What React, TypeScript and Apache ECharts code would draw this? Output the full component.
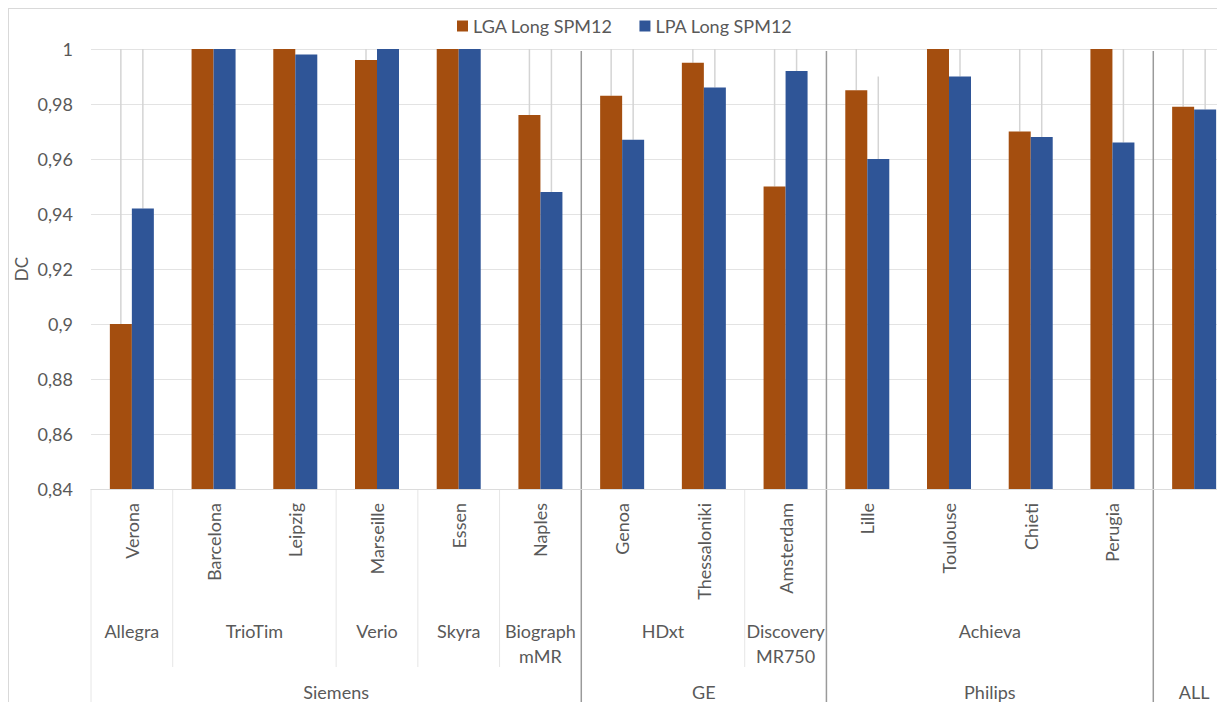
import React, { useEffect, useRef } from "react";
import * as echarts from "echarts";

const sites = ["Verona", "Barcelona", "Leipzig", "Marseille", "Essen", "Naples", "Genoa", "Thessaloniki", "Amsterdam", "Lille", "Toulouse", "Chieti", "Perugia", ""];
const scanners = ["Allegra", "TrioTim", "Verio", "Skyra", "Biograph\nmMR", "HDxt", "Discovery\nMR750", "Achieva", ""];
const scannerSpans = [1, 2, 1, 1, 1, 2, 1, 4, 1];
const vendors = ["Siemens", "GE", "Philips", "ALL"];
const vendorSpans = [6, 3, 4, 1];

const lgaName = "LGA Long SPM12";
const lpaName = "LPA Long SPM12";
const lga = [0.9, 1, 1, 0.996, 1, 0.976, 0.983, 0.995, 0.95, 0.985, 1, 0.97, 1, 0.979];
const lpa = [0.942, 1, 0.998, 1, 1, 0.948, 0.967, 0.986, 0.992, 0.96, 0.99, 0.968, 0.966, 0.978];
const lgaErr = [0.12, 0, 0, 0.02, 0, 0.04, 0.03, 0.02, 0.06, 0.03, 0, 0.04, 0, 0.03];
const lpaErr = [0.07, 0, 0, 0, 0, 0.06, 0.04, 0.03, 0.02, 0.03, 0.02, 0.04, 0.04, 0.03];

const yMin = 0.84;
const yMax = 1;
const yStep = 0.02;

const ORANGE = "#A44E0F";
const BLUE = "#2F5597";
const TEXT = "#595959";
const FONT = "Lato";
const BAR_W = 22;

function errSeries(values: number[], errs: number[], offset: number) {
  return {
    type: "custom",
    z: 1,
    silent: true,
    clip: true,
    data: values.map((v, i) => [i, v, errs[i]]),
    encode: { x: 0, y: 1 },
    renderItem: (params: any, api: any) => {
      const i = api.value(0);
      const v = api.value(1);
      const e = api.value(2);
      if (!e) return null;
      const p1 = api.coord([i, v]);
      const p2 = api.coord([i, Math.min(v + e, yMax)]);
      const x = p1[0] + offset;
      return {
        type: "line",
        shape: { x1: x, y1: p1[1], x2: x, y2: p2[1] },
        style: { stroke: "#d4d4d4", lineWidth: 1.5 },
      };
    },
  };
}

export default function App() {
  const ref = useRef<HTMLDivElement>(null);
  useEffect(() => {
    const chart = echarts.init(ref.current!, null, { renderer: "svg" });
    chart.setOption({
      animation: false,
      textStyle: { fontFamily: FONT },
      legend: {
        data: [lgaName, lpaName],
        top: 3,
        left: 443,
        itemWidth: 11,
        itemHeight: 11,
        itemGap: 27,
        icon: "rect",
        textStyle: { color: TEXT, fontSize: 18, fontFamily: FONT },
      },
      grid: {
        left: 82,
        top: 40,
        right: -10,
        bottom: 213,
        containLabel: false,
        outerBoundsMode: "none",
      },
      xAxis: {
        type: "category",
        data: sites,
        axisLine: { show: true, lineStyle: { color: "#dcdcdc", width: 1 } },
        axisTick: { show: false },
        axisLabel: {
          interval: 0,
          rotate: 90,
          margin: 14,
          color: TEXT,
          fontSize: 18,
          fontFamily: FONT,
        },
        splitLine: { show: false },
      },
      yAxis: {
        type: "value",
        min: yMin,
        max: yMax,
        interval: yStep,
        name: "DC",
        nameLocation: "middle",
        nameGap: 61,
        nameMoveOverlap: false,
        nameTextStyle: { color: TEXT, fontSize: 17, fontFamily: FONT },
        axisLine: { show: false },
        axisTick: { show: false },
        axisLabel: {
          margin: 18,
          color: TEXT,
          fontSize: 18,
          fontFamily: FONT,
          formatter: (v: number) => String(parseFloat(v.toFixed(2))).replace(".", ","),
        },
        splitLine: { lineStyle: { color: "#e3e3e3", width: 1 } },
      },
      series: [
        errSeries(lga, lgaErr, -BAR_W / 2),
        errSeries(lpa, lpaErr, BAR_W / 2),
        {
          name: lgaName,
          type: "bar",
          z: 2,
          data: lga,
          barWidth: BAR_W,
          barGap: "0%",
          itemStyle: { color: ORANGE },
        },
        {
          name: lpaName,
          type: "bar",
          z: 2,
          data: lpa,
          barWidth: BAR_W,
          barGap: "0%",
          itemStyle: { color: BLUE },
        },
      ],
    });

    const H = chart.getHeight();
    const xOf = (i: number) => chart.convertToPixel({ xAxisIndex: 0 }, i) as number;
    const bw = xOf(1) - xOf(0);
    const edge = (i: number) => xOf(i) - bw / 2;
    const axisY = chart.convertToPixel({ yAxisIndex: 0 }, yMin) as number;
    const topY = chart.convertToPixel({ yAxisIndex: 0 }, yMax) as number;

    const graphic: any[] = [];
    graphic.push({
      type: "line",
      shape: { x1: edge(0), y1: axisY, x2: edge(0), y2: H },
      style: { stroke: "#e6e6e6", lineWidth: 1 },
      silent: true,
    });

    const vendorEnds: number[] = [];
    let acc = 0;
    vendorSpans.forEach((s, k) => {
      const start = acc;
      acc += s;
      vendorEnds.push(acc);
      const cx = (xOf(start) + xOf(acc - 1)) / 2;
      graphic.push({
        type: "text",
        x: cx,
        y: H - 10,
        style: {
          text: vendors[k],
          fill: TEXT,
          font: `18px ${FONT}`,
          align: "center",
          verticalAlign: "middle",
        },
        silent: true,
      });
      if (acc < sites.length) {
        const bx = edge(acc);
        graphic.push({
          type: "line",
          shape: { x1: bx, y1: topY + 2, x2: bx, y2: H },
          style: { stroke: "#9a9a9a", lineWidth: 1.5 },
          silent: true,
        });
      }
    });

    acc = 0;
    scannerSpans.forEach((s, k) => {
      const start = acc;
      acc += s;
      const cx = (xOf(start) + xOf(acc - 1)) / 2;
      if (scanners[k]) {
        graphic.push({
          type: "text",
          x: cx,
          y: axisY + 129,
          style: {
            text: scanners[k],
            fill: TEXT,
            font: `18px ${FONT}`,
            lineHeight: 25,
            align: "center",
            verticalAlign: "top",
          },
          silent: true,
        });
      }
      if (acc < sites.length && vendorEnds.indexOf(acc) < 0) {
        const bx = edge(acc);
        graphic.push({
          type: "line",
          shape: { x1: bx, y1: axisY, x2: bx, y2: axisY + 178 },
          style: { stroke: "#e6e6e6", lineWidth: 1 },
          silent: true,
        });
      }
    });

    chart.setOption({ graphic });
    return () => chart.dispose();
  }, []);

  return (
    <div
      style={{
        width: 1217,
        height: 694,
        borderTop: "1px solid #d9d9d9",
        borderLeft: "1px solid #d9d9d9",
        boxSizing: "border-box",
        overflow: "hidden",
        background: "#fff",
      }}
    >
      <div ref={ref} style={{ width: 1216, height: 693 }} />
    </div>
  );
}
